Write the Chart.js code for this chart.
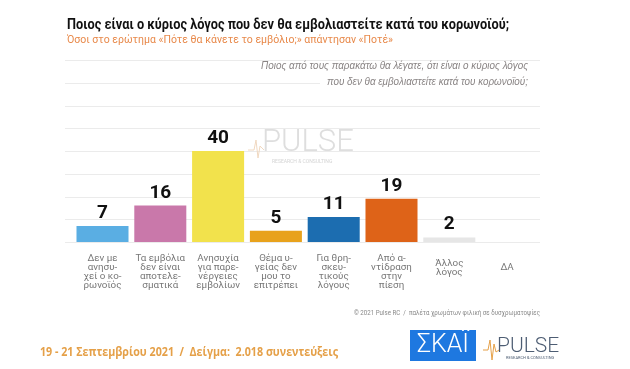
<!DOCTYPE html>
<html>
<head>
<meta charset="utf-8">
<script src="https://cdn.jsdelivr.net/npm/chart.js@4/dist/chart.umd.min.js"></script>
<style>
html,body{margin:0;padding:0;background:#fff;}
#wrap{width:630px;height:369px;position:relative;}
</style>
</head>
<body>
<div id="wrap"><canvas id="c" width="630" height="369"></canvas></div>
<script>
const categories = [
  ["Δεν με","ανησυ-","χεί ο κο-","ρωνοϊός"],
  ["Τα εμβόλια","δεν είναι","αποτελε-","σματικά"],
  ["Ανησυχία","για παρε-","νέργειες","εμβολίων"],
  ["Θέμα υ-","γείας δεν","μου το","επιτρέπει"],
  ["Για θρη-","σκευ-","τικούς","λόγους"],
  ["Από α-","ντίδραση","στην","πίεση"],
  ["Άλλος","λόγος"],
  ["ΔΑ"]
];
const values = [7, 16, 40, 5, 11, 19, 2, 0];
const barColors = ['#5AAEE3','#C978AA','#F2E24C','#E8A21C','#1C6DB0','#DE6318','#E6E6E6','#cccccc'];
const gridTicks = [0,10,20,30,40,50,60,70,80];

const titleText = "Ποιος είναι ο κύριος λόγος που δεν θα εμβολιαστείτε κατά του κορωνοϊού;";
const subtitleText = "Όσοι στο ερώτημα «Πότε θα κάνετε το εμβόλιο;» απάντησαν «Ποτέ»";
const noteLines = ["Ποιος από τους παρακάτω θα λέγατε, ότι είναι ο κύριος λόγος","που δεν θα εμβολιαστείτε κατά του κορωνοϊού;"];
const copyrightText = "© 2021 Pulse RC  /  παλέτα χρωμάτων φιλική σε δυσχρωματοψίες";
const footerText = "19 - 21 Σεπτεμβρίου 2021  /  Δείγμα:  2.018 συνεντεύξεις";

const decor = {
  id: 'decor',
  beforeDatasetsDraw(chart) {
    const ctx = chart.ctx, y = chart.scales.y;
    ctx.save();
    ctx.strokeStyle = '#ebebeb';
    ctx.lineWidth = 1;
    gridTicks.forEach(v => {
      const py = Math.round(y.getPixelForValue(v)) + 0.5;
      ctx.beginPath(); ctx.moveTo(65, py); ctx.lineTo(540, py); ctx.stroke();
    });
    // watermark
    ctx.fillStyle = '#dedede';
    ctx.font = '300 31px Roboto';
    ctx.textBaseline = 'alphabetic';
    ctx.textAlign = 'left';
    ctx.fillText('PULSE', 262, 151, 104);
    ctx.font = '5px Roboto';
    ctx.fillStyle = '#d4d4d4';
    ctx.fillText('RESEARCH & CONSULTING', 272, 163, 92);
    ctx.strokeStyle = '#f0d8c0';
    ctx.beginPath();
    ctx.moveTo(248,150); ctx.lineTo(254,150); ctx.lineTo(256,140); ctx.lineTo(258,158); ctx.lineTo(260,146); ctx.lineTo(264,150);
    ctx.stroke();
    // note
    ctx.fillStyle = '#fff';
    ctx.fillRect(320, 75, 222, 14);
    ctx.fillStyle = '#8a8585';
    ctx.font = 'italic 10.5px "Liberation Sans"';
    ctx.textAlign = 'right';
    ctx.textBaseline = 'middle';
    ctx.fillText(noteLines[0], 528, 66, 267);
    ctx.fillText(noteLines[1], 528, 82, 201);
    ctx.restore();
  },
  afterDatasetsDraw(chart) {
    const ctx = chart.ctx, x = chart.scales.x;
    const meta = chart.getDatasetMeta(0);
    ctx.save();
    ctx.fillStyle = '#111';
    ctx.font = 'bold 19px Roboto';
    ctx.textAlign = 'center';
    ctx.textBaseline = 'alphabetic';
    meta.data.forEach((bar, i) => {
      if (values[i] > 0) ctx.fillText(String(values[i]), bar.x, bar.y - 8);
    });
    ctx.fillStyle = '#777';
    ctx.font = '9.8px Roboto';
    ctx.textBaseline = 'middle';
    const lh = 8.8;
    categories.forEach((lines, i) => {
      const cx = x.getPixelForValue(i);
      const center = lines.length >= 4 ? 272 : 268;
      const y0 = center - (lines.length - 1) * lh / 2;
      lines.forEach((t, k) => ctx.fillText(t, cx, y0 + k * lh, 54));
    });
    ctx.textAlign = 'left';
    ctx.textBaseline = 'alphabetic';
    ctx.fillStyle = '#111';
    ctx.font = 'bold 15.5px Roboto';
    ctx.fillText(titleText, 67, 29, 442);
    ctx.fillStyle = '#E8894A';
    ctx.font = '11px Roboto';
    ctx.fillText(subtitleText, 67, 43, 326);
    ctx.fillStyle = '#8a8a8a';
    ctx.font = '7.5px Roboto';
    ctx.textAlign = 'right';
    ctx.textBaseline = 'middle';
    ctx.fillText(copyrightText, 540, 313, 186);
    ctx.textAlign = 'left';
    ctx.textBaseline = 'alphabetic';
    ctx.fillStyle = '#E5A048';
    ctx.font = 'bold 12px "Open Sans"';
    ctx.fillText(footerText, 40, 356, 298);
    // SKAI logo
    ctx.fillStyle = '#1E78E0';
    ctx.fillRect(410, 330, 66, 31);
    ctx.fillStyle = '#fff';
    ctx.font = '300 25px Roboto';
    ctx.textAlign = 'center';
    ctx.textBaseline = 'middle';
    ctx.fillText('ΣΚΑΪ', 443, 346, 58);
    // PULSE logo
    ctx.fillStyle = '#4d5d73';
    ctx.font = '300 21px Roboto';
    ctx.textAlign = 'left';
    ctx.textBaseline = 'alphabetic';
    ctx.fillText('PULSE', 497, 352, 64);
    ctx.font = '4px Roboto';
    ctx.fillText('RESEARCH & CONSULTING', 506, 359, 54);
    ctx.strokeStyle = '#E5A048';
    ctx.lineWidth = 1;
    ctx.beginPath();
    ctx.moveTo(483,350); ctx.lineTo(488,350); ctx.lineTo(490,340); ctx.lineTo(492,360); ctx.lineTo(494,344); ctx.lineTo(496,352); ctx.lineTo(499,350);
    ctx.stroke();
    ctx.restore();
  }
};

new Chart(document.getElementById('c'), {
  type: 'bar',
  data: {
    labels: categories.map(l => l.join(' ')),
    datasets: [{
      data: values,
      backgroundColor: barColors,
      borderWidth: 0,
      barPercentage: 0.9,
      categoryPercentage: 1.0
    }]
  },
  options: {
    responsive: false,
    animation: false,
    devicePixelRatio: 1,
    layout: { padding: { left: 73.6, right: 94, top: 60, bottom: 127 } },
    plugins: { legend: { display: false }, tooltip: { enabled: false }, title: { display: false } },
    scales: {
      x: { display: false },
      y: { display: false, min: 0, max: 80 }
    }
  },
  plugins: [decor]
});
</script>
</body>
</html>
